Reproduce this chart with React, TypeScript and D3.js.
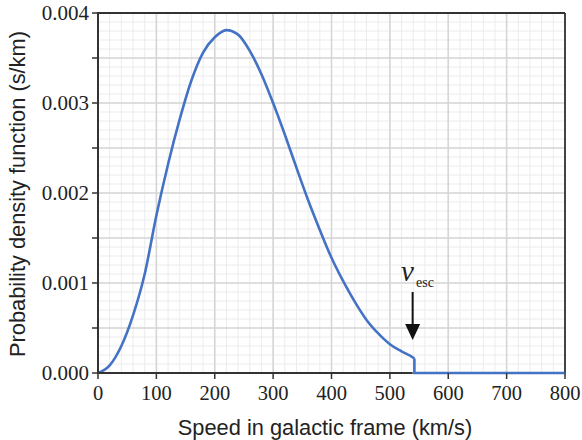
import React from "react";
import * as d3 from "d3";

const speeds = [0, 20, 40, 60, 80, 100, 120, 140, 160, 180, 200, 220, 240, 260, 280, 300, 320, 340, 360, 380, 400, 420, 440, 460, 480, 500, 520, 540, 542];
const pdf = [0, 0.000085, 0.0003, 0.00064, 0.0011, 0.00175, 0.00232, 0.00282, 0.00325, 0.00356, 0.00373, 0.00381, 0.00376, 0.00358, 0.00332, 0.003, 0.00265, 0.00228, 0.00192, 0.00159, 0.00128, 0.00102, 0.00079, 0.00059, 0.00044, 0.00032, 0.00024, 0.00017, 0.00016];
const tailSpeeds = [542, 542, 800];
const tailPdf = [0.00016, 0, 0];
const xTicks = [0, 100, 200, 300, 400, 500, 600, 700, 800];
const yTickLabels = [0, 0.001, 0.002, 0.003, 0.004];
const vEsc = 539;

const W = 582, H = 440;
const L = 98, R = 565, T = 13, B = 373;
const SERIF = "'Liberation Serif', 'Times New Roman', Times, serif";
const SANS = "'Liberation Sans', Arial, Helvetica, sans-serif";

export default function App() {
  const x = d3.scaleLinear().domain([0, 800]).range([L, R]);
  const y = d3.scaleLinear().domain([0, 0.004]).range([B, T]);
  const minorX = d3.range(0, 801, 20);
  const minorY = d3.range(0, 41).map((i) => i * 0.0001);
  const majorY = d3.range(0, 9).map((i) => i * 0.0005);
  const line = d3
    .line<number>()
    .x((_, i) => x(speeds[i]))
    .y((d) => y(d))
    .curve(d3.curveMonotoneX);
  const tail = d3
    .line<number>()
    .x((_, i) => x(tailSpeeds[i]))
    .y((d) => y(d));
  const ax = x(vEsc);
  return (
    <svg width={W} height={H} style={{ position: "absolute", left: 0, top: 0, background: "#fff" }}>
      <g>
        {minorX.map((v) => (
          <line key={"mx" + v} x1={x(v)} x2={x(v)} y1={T} y2={B} stroke="#ececec" strokeWidth={1} />
        ))}
        {minorY.map((v, i) => (
          <line key={"my" + i} x1={L} x2={R} y1={y(v)} y2={y(v)} stroke="#ececec" strokeWidth={1} />
        ))}
        {xTicks.map((v) => (
          <line key={"Mx" + v} x1={x(v)} x2={x(v)} y1={T} y2={B} stroke="#d6d6d6" strokeWidth={1.6} />
        ))}
        {majorY.map((v, i) => (
          <line key={"My" + i} x1={L} x2={R} y1={y(v)} y2={y(v)} stroke="#d6d6d6" strokeWidth={1.6} />
        ))}
      </g>
      <path d={line(pdf) || ""} fill="none" stroke="#4472c4" strokeWidth={2.6} strokeLinejoin="round" />
      <line x1={L} x2={R} y1={T} y2={T} stroke="#333" strokeWidth={1.8} />
      <line x1={R} x2={R} y1={T} y2={B} stroke="#333" strokeWidth={1.8} />
      <line x1={L} x2={L} y1={T - 1} y2={B + 1} stroke="#333" strokeWidth={2} />
      <line x1={L} x2={x(vEsc)} y1={B} y2={B} stroke="#333" strokeWidth={2} />
      <path d={tail(tailPdf) || ""} fill="none" stroke="#4472c4" strokeWidth={2.6} />
      {majorY.map((v, i) => (
        <line key={"yt" + i} x1={L - 6} x2={L} y1={y(v)} y2={y(v)} stroke="#333" strokeWidth={1.5} />
      ))}
      {xTicks.map((v) => (
        <line key={"xt" + v} x1={x(v)} x2={x(v)} y1={B} y2={B + 6} stroke="#333" strokeWidth={1.5} />
      ))}
      {yTickLabels.map((v) => (
        <text key={"yl" + v} x={L - 9} y={y(v) + 7} textAnchor="end" style={{ fontFamily: SERIF, fontSize: "21px" }} fill="#222">
          {v.toFixed(3)}
        </text>
      ))}
      {xTicks.map((v) => (
        <text key={"xl" + v} x={x(v)} y={400} textAnchor="middle" style={{ fontFamily: SERIF, fontSize: "20.5px" }} fill="#222">
          {v}
        </text>
      ))}
      <text x={325} y={435} textAnchor="middle" style={{ fontFamily: SANS, fontSize: "21.8px" }} fill="#222">
        Speed in galactic frame (km/s)
      </text>
      <text
        transform={`translate(25, 194) rotate(-90)`}
        textAnchor="middle"
        style={{ fontFamily: SANS, fontSize: "21.8px" }}
        fill="#222"
      >
        Probability density function (s/km)
      </text>
      <text x={401} y={281} style={{ fontFamily: SERIF, fontStyle: "italic", fontSize: "29px" }} fill="#222">
        v
      </text>
      <text x={416} y={287} style={{ fontFamily: SERIF, fontSize: "14px" }} fill="#222">
        esc
      </text>
      <line x1={ax} x2={ax} y1={292} y2={326} stroke="#111" strokeWidth={2} />
      <path d={`M${ax - 7.5},324 L${ax + 7.5},324 L${ax},340 Z`} fill="#111" />
    </svg>
  );
}
